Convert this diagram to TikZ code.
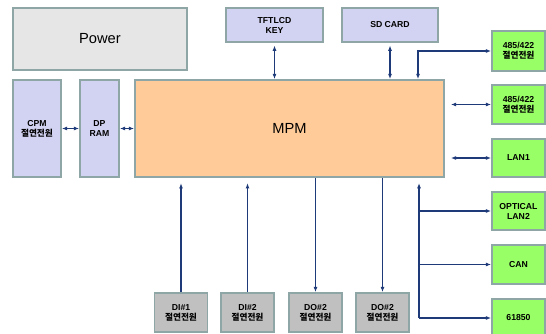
\documentclass[tikz,border=0pt]{standalone}
\usepackage{fontspec}
\setmainfont{Liberation Sans}
\newfontfamily\kr{Noto Sans CJK KR}
\usetikzlibrary{arrows.meta,calc}
\definecolor{edge}{HTML}{8FA6A6}
\definecolor{wire}{HTML}{1E3A78}
\definecolor{lav}{HTML}{D2D2F2}
\definecolor{grn}{HTML}{99FF66}
\definecolor{peach}{HTML}{FFCC99}
\definecolor{pgray}{HTML}{E6E6E6}
\definecolor{dgray}{HTML}{C0C0C0}
\tikzset{
  box/.style={draw=edge,line width=1.2pt,inner sep=0pt,align=center,font=\fontsize{6.5}{7.5}\selectfont\bfseries},
  lavbox/.style={box,fill=lav},
  grnbox/.style={box,fill=grn},
  graybox/.style={box,fill=dgray},
  conn/.style={draw=wire,line width=0.9pt,-{Latex[length=4pt,width=3pt]}},
  biconn/.style={draw=wire,line width=0.9pt,{Latex[length=4pt,width=3pt]}-{Latex[length=4pt,width=3pt]}}
}
\begin{document}
\begin{tikzpicture}[x=0.75pt,y=-0.75pt]
\useasboundingbox (0,0) rectangle (546,334);
\node[box,fill=pgray,minimum width=174*0.75pt,minimum height=62*0.75pt,font=\fontsize{11}{13}\selectfont] (power) at (100,39) {Power};
\node[lavbox,minimum width=97*0.75pt,minimum height=34*0.75pt] (tft) at (274.5,25) {TFTLCD\\KEY};
\node[lavbox,minimum width=96*0.75pt,minimum height=34*0.75pt] (sd) at (390,25) {SD CARD};
\node[box,fill=peach,minimum width=309*0.75pt,minimum height=97*0.75pt,font=\fontsize{11}{13}\selectfont] (mpm) at (289.5,128.5) {MPM};
\node[lavbox,minimum width=48*0.75pt,minimum height=97*0.75pt] (cpm) at (37,128.5) {CPM\\{\kr 절연전원}};
\node[lavbox,minimum width=39*0.75pt,minimum height=97*0.75pt] (dp) at (99.5,128.5) {DP\\RAM};
\node[grnbox,minimum width=53*0.75pt,minimum height=40*0.75pt] (g1) at (518.5,51) {485/422\\{\kr 절연전원}};
\node[grnbox,minimum width=53*0.75pt,minimum height=39*0.75pt] (g2) at (518.5,104.5) {485/422\\{\kr 절연전원}};
\node[grnbox,minimum width=53*0.75pt,minimum height=38*0.75pt] (lan) at (518.5,158) {LAN1};
\node[grnbox,minimum width=53*0.75pt,minimum height=38*0.75pt] (opt) at (518.5,211) {OPTICAL\\LAN2};
\node[grnbox,minimum width=53*0.75pt,minimum height=39*0.75pt] (can) at (518.5,264.5) {CAN};
\node[grnbox,minimum width=53*0.75pt,minimum height=38*0.75pt] (iec) at (518.5,318) {61850};
\node[graybox,minimum width=53*0.75pt,minimum height=39*0.75pt] (di1) at (181,312.5) {DI\#1\\{\kr 절연전원}};
\node[graybox,minimum width=53*0.75pt,minimum height=39*0.75pt] (di2) at (247.5,312.5) {DI\#2\\{\kr 절연전원}};
\node[graybox,minimum width=53*0.75pt,minimum height=39*0.75pt] (do1) at (315.5,312.5) {DO\#2\\{\kr 절연전원}};
\node[graybox,minimum width=53*0.75pt,minimum height=39*0.75pt] (do2) at (382.5,312.5) {DO\#2\\{\kr 절연전원}};
% top
\draw[biconn,shorten <=2pt] (tft.south) -- (tft.south |- mpm.north);
\draw[biconn,shorten <=2pt] (sd.south) -- (sd.south |- mpm.north);
\coordinate (c1) at (418,51);
\draw[biconn] (c1 |- mpm.north) -- (c1) -- (g1.west);
% right
\draw[biconn] ($(mpm.east |- g2.west)+(6,0)$) -- (g2.west);
\draw[biconn] ($(mpm.east |- lan.west)+(6,0)$) -- (lan.west);
\coordinate (btop) at (419,183);
\coordinate (bbot) at (419,318);
\draw[conn] (bbot) -- (btop);
\draw[conn] (opt.west -| btop) -- (opt.west);
\draw[conn] (can.west -| btop) -- (can.west);
\draw[conn] (bbot) -- (iec.west);
% left
\draw[biconn] (cpm.east) -- (dp.west);
\draw[biconn] (dp.east) -- (mpm.west);
% bottom
\draw[conn,shorten >=4pt] (di1.north) -- (di1.north |- mpm.south);
\draw[conn,shorten >=4pt] (di2.north) -- (di2.north |- mpm.south);
\draw[conn] (do1.north |- mpm.south) -- (do1.north);
\draw[conn] (do2.north |- mpm.south) -- (do2.north);
\end{tikzpicture}
\end{document}
